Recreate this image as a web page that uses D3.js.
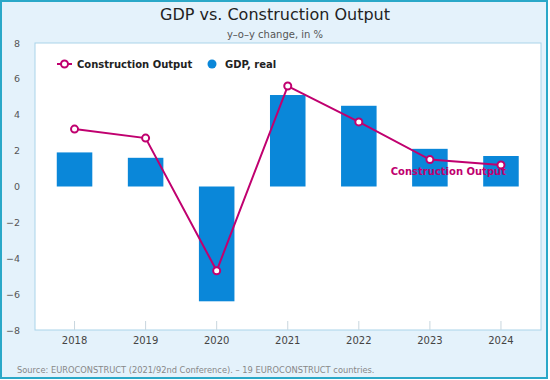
<!DOCTYPE html>
<html><head><meta charset="utf-8">
<script src="https://cdn.jsdelivr.net/npm/d3@7"></script>
<style>body{margin:0;background:#fff}svg{display:block}text{font-family:"DejaVu Sans",Verdana,sans-serif}</style>
</head><body><svg id="c" width="550" height="380"></svg>
<script>
const categories = ["2018","2019","2020","2021","2022","2023","2024"];
const gdpReal = [1.9, 1.6, -6.4, 5.1, 4.5, 2.1, 1.7];
const constructionOutput = [3.2, 2.7, -4.7, 5.6, 3.6, 1.5, 1.2];
const yTicks = [-8,-6,-4,-2,0,2,4,6,8];

const svg = d3.select("#c");
svg.append("rect").attr("x",1).attr("y",1).attr("width",546).attr("height",377)
  .attr("fill","#e4f2fb").attr("stroke","#2aa8c8").attr("stroke-width",2);

const L=35, R=541, T=43, B=330;
svg.append("rect").attr("x",L).attr("y",T).attr("width",R-L).attr("height",B-T)
  .attr("fill","#fff").attr("stroke","#a9d3e9").attr("stroke-width",1);

const x = d3.scaleBand().domain(categories).range([39,536.5]).paddingInner(0.5).paddingOuter(0.25);
const y = d3.scaleLinear().domain([-8,8]).range([B,T]);

svg.append("text").attr("x",275).attr("y",20).attr("text-anchor","middle")
  .attr("font-size",16).attr("fill","#222").text("GDP vs. Construction Output");
svg.append("text").attr("x",275).attr("y",38).attr("text-anchor","middle")
  .attr("font-size",10).attr("fill","#555").text("y\u2013o\u2013y change, in %");

// y axis labels
svg.append("g").selectAll("text").data(yTicks).join("text")
  .attr("x",20).attr("y",d=>y(d)+3.5).attr("text-anchor","end")
  .attr("font-size",9.5).attr("fill","#555").text(d=>d<0?"\u2212"+Math.abs(d):d);

// x ticks & labels
const xg = svg.append("g");
xg.selectAll("line").data(categories).join("line")
  .attr("x1",d=>x(d)+x.bandwidth()/2).attr("x2",d=>x(d)+x.bandwidth()/2)
  .attr("y1",B-9).attr("y2",B).attr("stroke","#c8d6de").attr("stroke-width",1);
xg.selectAll("text").data(categories).join("text")
  .attr("x",d=>x(d)+x.bandwidth()/2).attr("y",344).attr("text-anchor","middle")
  .attr("font-size",10).attr("fill","#444").text(d=>d);

// bars
svg.append("g").selectAll("rect").data(gdpReal).join("rect")
  .attr("x",(d,i)=>x(categories[i])).attr("width",x.bandwidth())
  .attr("y",d=>y(Math.max(0,d))).attr("height",d=>Math.abs(y(d)-y(0)))
  .attr("fill","#0a87d9");

// line
const cx = (d,i)=>x(categories[i])+x.bandwidth()/2;
svg.append("path").datum(constructionOutput)
  .attr("d",d3.line().x(cx).y(d=>y(d)))
  .attr("fill","none").attr("stroke","#c0006f").attr("stroke-width",2);
svg.append("g").selectAll("circle").data(constructionOutput).join("circle")
  .attr("cx",cx).attr("cy",d=>y(d)).attr("r",3.5)
  .attr("fill","#fff").attr("stroke","#c0006f").attr("stroke-width",2);

// series label
const last = constructionOutput.length-1;
svg.append("text").attr("x",cx(constructionOutput[last],last)+5).attr("y",y(constructionOutput[last])+10)
  .attr("text-anchor","end").attr("font-size",10).attr("font-weight","bold")
  .attr("fill","#c0006f").text("Construction Output");

// legend
const lg = svg.append("g");
lg.append("line").attr("x1",57).attr("x2",72).attr("y1",64).attr("y2",64).attr("stroke","#c0006f").attr("stroke-width",2);
lg.append("circle").attr("cx",64.5).attr("cy",64).attr("r",3.5).attr("fill","#fff").attr("stroke","#c0006f").attr("stroke-width",2);
lg.append("text").attr("x",77).attr("y",68).attr("font-size",10).attr("font-weight","bold").attr("fill","#222").text("Construction Output");
lg.append("circle").attr("cx",212).attr("cy",64).attr("r",4.5).attr("fill","#0a87d9");
lg.append("text").attr("x",225).attr("y",68).attr("font-size",10).attr("font-weight","bold").attr("fill","#222").text("GDP, real");

svg.append("text").attr("x",17).attr("y",373).attr("font-size",8.3).attr("fill","#888")
  .text("Source: EUROCONSTRUCT (2021/92nd Conference). \u2013 19 EUROCONSTRUCT countries.");
</script></body></html>
